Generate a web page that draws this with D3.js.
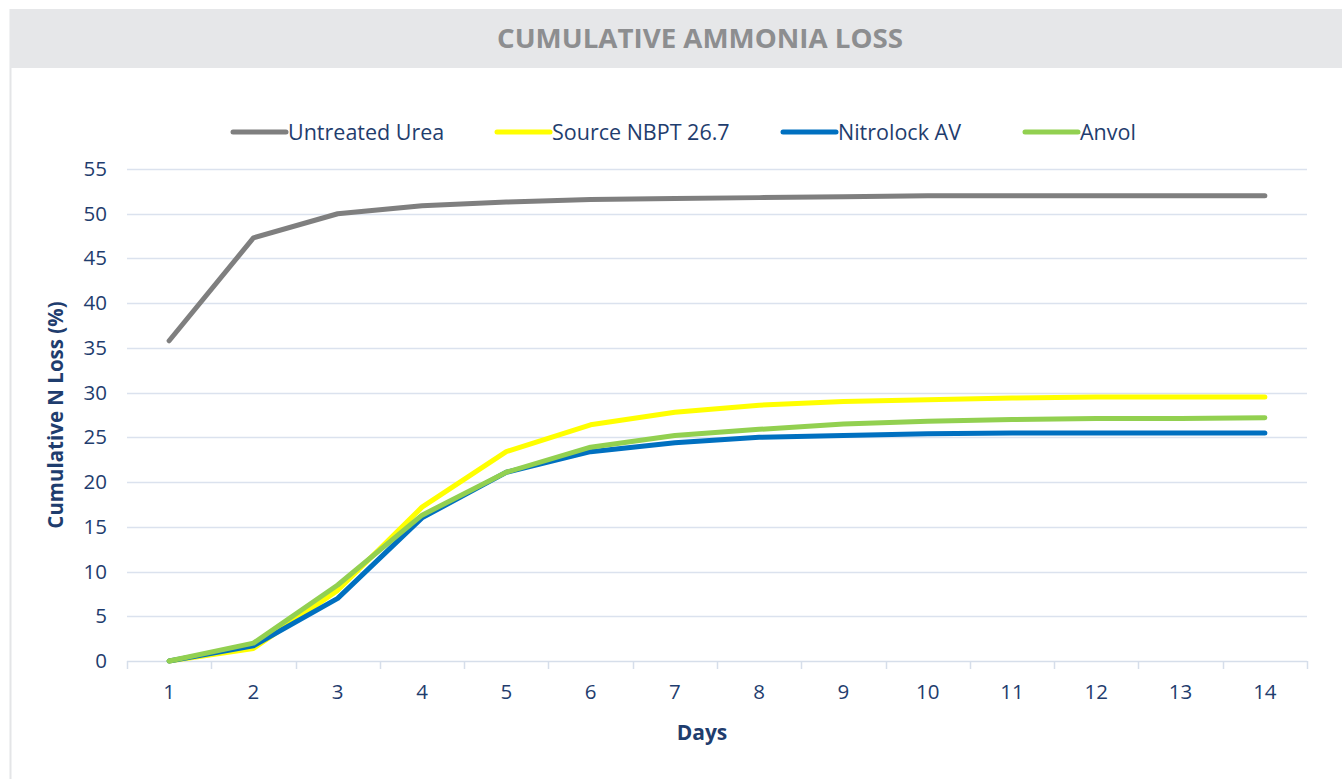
<!DOCTYPE html>
<html lang="en">
<head>
  <meta charset="UTF-8">
  <title>Cumulative Ammonia Loss</title>
  <script src="https://cdn.jsdelivr.net/npm/d3@7"></script>
  <style>
    html, body { margin: 0; padding: 0; background: #fff; overflow: hidden; }
    svg { display: block; }
    text { font-family: "Open Sans", "Liberation Sans", sans-serif; }
  </style>
</head>
<body>
  <svg width="1342" height="779"></svg>
<script>
  // data
  const days = [1, 2, 3, 4, 5, 6, 7, 8, 9, 10, 11, 12, 13, 14];
  const seriesNames = ['Untreated Urea', 'Source NBPT 26.7', 'Nitrolock AV', 'Anvol'];
  const seriesColors = ['#7f7f7f', '#ffff00', '#0070c0', '#92d050'];
  const untreatedUrea = [35.8, 47.3, 50.0, 50.9, 51.3, 51.6, 51.7, 51.8, 51.9, 52.0, 52.0, 52.0, 52.0, 52.0];
  const sourceNbpt = [0, 1.4, 7.9, 17.2, 23.4, 26.4, 27.8, 28.6, 29.0, 29.2, 29.4, 29.5, 29.5, 29.5];
  const nitrolockAv = [0, 1.7, 7.0, 16.0, 21.1, 23.4, 24.4, 25.0, 25.2, 25.4, 25.5, 25.5, 25.5, 25.5];
  const anvol = [0, 2.0, 8.5, 16.3, 21.1, 23.9, 25.2, 25.9, 26.5, 26.8, 27.0, 27.1, 27.1, 27.2];
  const yTicks = [0, 5, 10, 15, 20, 25, 30, 35, 40, 45, 50, 55];

  const allSeries = [untreatedUrea, sourceNbpt, nitrolockAv, anvol];

  const svg = d3.select('svg');
  const width = +svg.attr('width');
  const height = +svg.attr('height');

  const navy = '#1f3d6e';

  // panel frame + title band
  svg.append('line')
    .attr('x1', 10.5).attr('x2', 10.5)
    .attr('y1', 9).attr('y2', height)
    .attr('stroke', '#e4e5e7').attr('stroke-width', 2);

  svg.append('rect')
    .attr('x', 10).attr('y', 9)
    .attr('width', width - 10).attr('height', 59)
    .attr('fill', '#e6e7e9');

  svg.append('text')
    .attr('x', 700).attr('y', 48)
    .attr('text-anchor', 'middle')
    .attr('font-size', '27px')
    .attr('font-weight', 700)
    .attr('fill', '#8d8e90')
    .attr('textLength', 406)
    .attr('lengthAdjust', 'spacingAndGlyphs')
    .text('CUMULATIVE AMMONIA LOSS');

  const margin = { top: 169, left: 127, right: 35, bottom: 118 };
  const innerWidth = width - margin.left - margin.right;
  const innerHeight = height - margin.top - margin.bottom;

  const g = svg.append('g')
    .attr('transform', `translate(${margin.left},${margin.top})`);

  const xScale = d3.scaleBand()
    .domain(days)
    .range([0, innerWidth]);

  const yScale = d3.scaleLinear()
    .domain([0, 55])
    .range([innerHeight, 0]);

  // gridlines
  g.append('g')
    .selectAll('line')
    .data(yTicks.slice(1))
    .join('line')
    .attr('x1', 0).attr('x2', innerWidth)
    .attr('y1', d => Math.round(yScale(d)) + 0.5)
    .attr('y2', d => Math.round(yScale(d)) + 0.5)
    .attr('stroke', '#dbe2ee')
    .attr('stroke-width', 1.5);

  // y axis labels
  g.append('g')
    .selectAll('text')
    .data(yTicks)
    .join('text')
    .attr('x', -20)
    .attr('y', d => yScale(d) + 7)
    .attr('text-anchor', 'end')
    .attr('font-size', '20.5px')
    .attr('fill', navy)
    .text(d => d);

  // x axis line
  g.append('line')
    .attr('x1', 0).attr('x2', innerWidth)
    .attr('y1', innerHeight + 0.5).attr('y2', innerHeight + 0.5)
    .attr('stroke', '#d6deea').attr('stroke-width', 1.5);

  // category boundary ticks
  const boundaries = days.map(d => xScale(d)).concat([innerWidth]);
  g.append('g')
    .selectAll('line')
    .data(boundaries)
    .join('line')
    .attr('x1', d => Math.round(d) + 0.5).attr('x2', d => Math.round(d) + 0.5)
    .attr('y1', innerHeight).attr('y2', innerHeight + 8)
    .attr('stroke', '#d6deea').attr('stroke-width', 1.5);

  // x labels
  g.append('g')
    .selectAll('text')
    .data(days)
    .join('text')
    .attr('x', d => xScale(d) + xScale.bandwidth() / 2)
    .attr('y', innerHeight + 38)
    .attr('text-anchor', 'middle')
    .attr('font-size', '20.5px')
    .attr('fill', navy)
    .text(d => d);

  // axis titles
  svg.append('text')
    .attr('x', margin.left + innerWidth / 2 - 15)
    .attr('y', 740)
    .attr('text-anchor', 'middle')
    .attr('font-size', '21px')
    .attr('font-weight', 700)
    .attr('fill', navy)
    .text('Days');

  svg.append('text')
    .attr('transform', `translate(63,${margin.top + innerHeight / 2}) rotate(-90)`)
    .attr('text-anchor', 'middle')
    .attr('font-size', '20.5px')
    .attr('font-weight', 700)
    .attr('fill', navy)
    .text('Cumulative N Loss (%)');

  // lines
  const line = d3.line()
    .x((d, i) => xScale(days[i]) + xScale.bandwidth() / 2)
    .y(d => yScale(d));

  g.append('g')
    .selectAll('path')
    .data(allSeries)
    .join('path')
    .attr('d', d => line(d))
    .attr('fill', 'none')
    .attr('stroke', (d, i) => seriesColors[i])
    .attr('stroke-width', 5)
    .attr('stroke-linejoin', 'round')
    .attr('stroke-linecap', 'round');

  // legend
  const legendX = [233, 497, 783, 1025];
  const legend = svg.append('g')
    .selectAll('g')
    .data(seriesNames)
    .join('g')
    .attr('transform', (d, i) => `translate(${legendX[i]},132)`);

  legend.append('line')
    .attr('x1', 0).attr('x2', 53)
    .attr('y1', 0).attr('y2', 0)
    .attr('stroke', (d, i) => seriesColors[i])
    .attr('stroke-width', 5)
    .attr('stroke-linecap', 'round');

  legend.append('text')
    .attr('x', 55)
    .attr('y', 8)
    .attr('font-size', '21.5px')
    .attr('fill', navy)
    .text(d => d);
</script>
</body>
</html>
